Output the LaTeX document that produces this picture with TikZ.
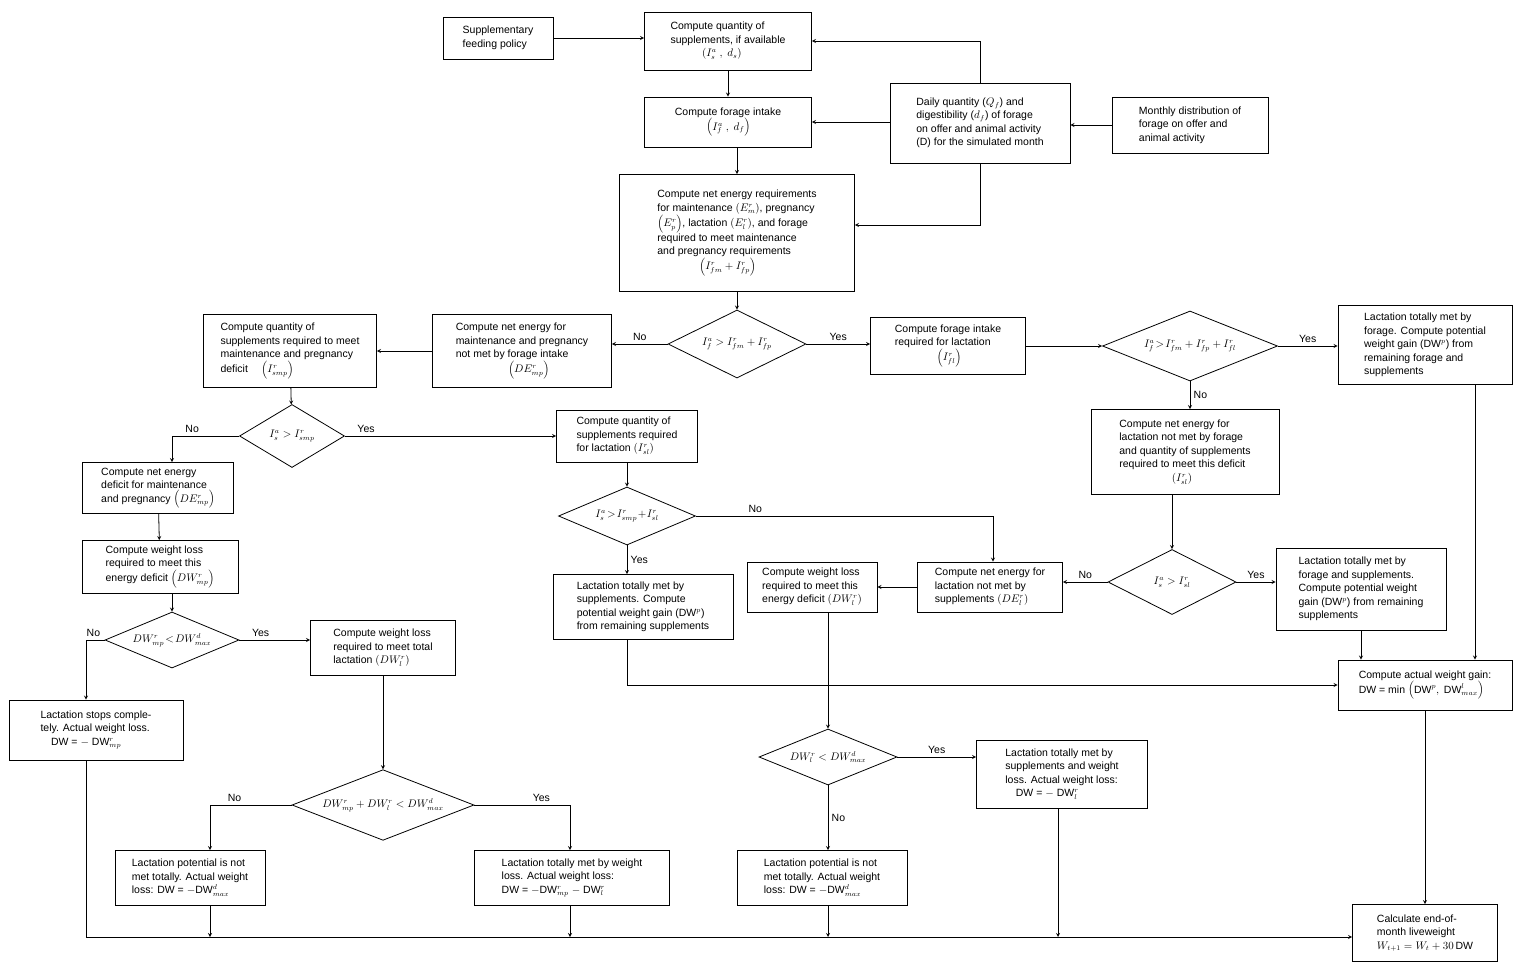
\documentclass[tikz,border=0pt]{standalone}
\usepackage{fontspec}
\setmainfont{Liberation Sans}
\usetikzlibrary{arrows,shapes.geometric,positioning}

\begin{document}
\begin{tikzpicture}[x=1pt,y=-1pt,thick,>=stealth,
    box/.style={draw,thick,align=left,inner sep=2pt,font=\fontsize{10.5}{13.5}\selectfont},
    decision/.style={draw,thick,diamond,aspect=2.1,inner sep=0pt,font=\fontsize{10.5}{12}\selectfont},
    lbl/.style={font=\fontsize{10.5}{12}\selectfont}]
\useasboundingbox (0,0) rectangle (1518,975);

% top part
\node [box,minimum width=110,minimum height=42] (policy) at (498,38) {Supplementary\\feeding policy};
\node [box,minimum width=167,minimum height=58] (qsupp) at (728,41) {Compute quantity of\\supplements, if available\\\hspace*{3em}$\left(I_s^a\ ,\ d_s\right)$};
\node [box,minimum width=167,minimum height=50] (fint) at (728,122) {Compute forage intake\\\hspace*{3em}$\left(I_f^a\ ,\ d_f\right)$};
\node [box,minimum width=180,minimum height=80] (daily) at (980,123) {Daily quantity ($Q_f$) and\\digestibility ($d_f$) of forage\\on offer and animal activity\\(D) for the simulated month};
\node [box,minimum width=156,minimum height=56] (monthly) at (1190,125) {Monthly distribution of\\forage on offer and\\animal activity};
\node [box,minimum width=235,minimum height=117] (netreq) at (737,233) {Compute net energy requirements\\for maintenance $\left(E_m^r\right)$, pregnancy\\$\left(E_p^r\right)$, lactation $\left(E_l^r\right)$, and forage\\required to meet maintenance\\and pregnancy requirements\\\hspace*{4em}$\left(I_{fm}^r + I_{fp}^r\right)$};

% forage branch
\node [decision,minimum width=138,minimum height=68] (d1) at (737,344) {$I_f^a > I_{fm}^r + I_{fp}^r$};
\node [box,minimum width=179,minimum height=73] (nemp) at (522,351) {Compute net energy for\\maintenance and pregnancy\\not met by forage intake\\\hspace*{5em}$\left(DE_{mp}^r\right)$};
\node [box,minimum width=173,minimum height=73] (qsmp) at (290,351) {Compute quantity of\\supplements required to meet\\maintenance and pregnancy\\deficit \quad $\left(I_{smp}^r\right)$};
\node [box,minimum width=155,minimum height=57] (flact) at (948,346) {Compute forage intake\\required for lactation\\\hspace*{4em}$\left(I_{fl}^r\right)$};
\node [decision,minimum width=175,minimum height=70] (d7) at (1190,346) {$I_f^a\!>\!I_{fm}^r + I_{fp}^r + I_{fl}^r$};
\node [box,minimum width=174,minimum height=79] (formet) at (1425,345) {Lactation totally met by\\forage. Compute potential\\weight gain (DW$^p$) from\\remaining forage and\\supplements};
\node [box,minimum width=188,minimum height=85] (nelf) at (1185,452) {Compute net energy for\\lactation not met by forage\\and quantity of supplements\\required to meet this deficit\\\hspace*{5em}$\left(I_{sl}^r\right)$};

% supplement branch
\node [decision,minimum width=105,minimum height=63] (d2) at (292,436) {$I_s^a > I_{smp}^r$};
\node [box,minimum width=151,minimum height=51] (nedef) at (158,488) {Compute net energy\\deficit for maintenance\\and pregnancy $\left(DE_{mp}^r\right)$};
\node [box,minimum width=156,minimum height=53] (wloss) at (160,567) {Compute weight loss\\required to meet this\\energy deficit $\left(DW_{mp}^r\right)$};
\node [decision,minimum width=134,minimum height=56] (d3) at (172,640) {$DW_{mp}^r\!<\!DW_{max}^d$};
\node [box,minimum width=145,minimum height=55] (wltot) at (383,648) {Compute weight loss\\required to meet total\\lactation $\left(DW_l^r\right)$};
\node [box,minimum width=174,minimum height=60] (stops) at (96,730) {Lactation stops comple-\\tely. Actual weight loss.\\\quad DW = $-$ DW$_{mp}^r$};
\node [decision,minimum width=182,minimum height=70] (d4) at (383,805) {$DW_{mp}^r + DW_l^r < DW_{max}^d$};
\node [box,minimum width=150,minimum height=55] (notmet1) at (190,878) {Lactation potential is not\\met totally. Actual weight\\loss: DW = $-$DW$_{max}^d$};
\node [box,minimum width=195,minimum height=55] (totwl) at (572,878) {Lactation totally met by weight\\loss. Actual weight loss:\\DW = $-$DW$_{mp}^r$ $-$ DW$_l^r$};

% lactation branch
\node [box,minimum width=141,minimum height=52] (qsl) at (627,436) {Compute quantity of\\supplements required\\for lactation $\left(I_{sl}^r\right)$};
\node [decision,minimum width=137,minimum height=58] (d5) at (627,516) {$I_s^a\!>\!I_{smp}^r\!+\!I_{sl}^r$};
\node [box,minimum width=180,minimum height=65] (supmet) at (643,607) {Lactation totally met by\\supplements. Compute\\potential weight gain (DW$^p$)\\from remaining supplements};
\node [box,minimum width=130,minimum height=50] (wlossl) at (812,587) {Compute weight loss\\required to meet this\\energy deficit $\left(DW_l^r\right)$};
\node [box,minimum width=145,minimum height=50] (nel) at (990,587) {Compute net energy for\\lactation not met by\\supplements $\left(DE_l^r\right)$};
\node [decision,minimum width=128,minimum height=65] (d6) at (1172,582) {$I_s^a > I_{sl}^r$};
\node [box,minimum width=170,minimum height=82] (forsup) at (1361,589) {Lactation totally met by\\forage and supplements.\\Compute potential weight\\gain (DW$^p$) from remaining\\supplements};
\node [box,minimum width=174,minimum height=50] (actual) at (1425,685) {Compute actual weight gain:\\DW = min $\left(\mathrm{DW}^p,\ \mathrm{DW}_{max}^l\right)$};
\node [decision,minimum width=138,minimum height=56] (d8) at (828,757) {$DW_l^r < DW_{max}^d$};
\node [box,minimum width=171,minimum height=68] (totsw) at (1062,774) {Lactation totally met by\\supplements and weight\\loss. Actual weight loss:\\\quad DW = $-$ DW$_l^r$};
\node [box,minimum width=170,minimum height=55] (notmet2) at (822,878) {Lactation potential is not\\met totally. Actual weight\\loss: DW = $-$DW$_{max}^d$};
\node [box,minimum width=145,minimum height=57] (endm) at (1425,933) {Calculate end-of-\\month liveweight\\$W_{t+1} = W_t + 30\,$DW};

\coordinate (bus) at (86,937);

% top connectors
\draw [->] (policy.east) -- (policy.east -| qsupp.west);
\draw [->] (qsupp) -- (fint);
\draw [->] (fint.south -| netreq) -- (netreq);
\draw [->] (monthly.west) -- (monthly.west -| daily.east);
\draw [->] (daily.west |- fint.east) -- (fint.east);
\draw [->] (daily.north) |- (qsupp.east);
\draw [->] (daily.south) |- (netreq.east |- 0,225);
\draw [->] (netreq) -- (d1);

% forage decisions
\draw [->] (d1.west) -- node [lbl,above] {No} (d1.west -| nemp.east);
\draw [->] (nemp) -- (qsmp);
\draw [->] (d1.east) -- node [lbl,above] {Yes} (d1.east -| flact.west);
\draw [->] (flact.east |- d7.west) -- (d7.west);
\draw [->] (d7.east) -- node [lbl,above] {Yes} (d7.east -| formet.west);
\draw [->] (d7.south) -- node [lbl,right] {No} (nelf.north -| d7.south);
\draw [->] (nelf.south -| d6.north) -- (d6);

% supplement decisions
\draw [->] (qsmp) -- (d2);
\draw [->] (d2.west) -| node [lbl,above,pos=0.35] {No} (nedef.north -| 172,0);
\draw [->] (d2) -- node [lbl,above,pos=0.1] {Yes} (qsl);
\draw [->] (nedef) -- (wloss);
\draw [->] (wloss.south -| d3.north) -- (d3);
\draw [->] (d3.east) -- node [lbl,above,pos=0.3] {Yes} (d3.east -| wltot.west);
\draw [->] (d3.west) -| node [lbl,above,pos=0.3] {No} (stops.north -| bus);
\draw [->] (wltot) -- (d4);
\draw [->] (d4.west) -| node [lbl,above,pos=0.35] {No} (notmet1.north -| 210,0);
\draw [->] (d4.east) -| node [lbl,above,pos=0.35] {Yes} (totwl.north -| 570,0);

% lactation decisions
\draw [->] (qsl) -- (d5);
\draw [->] (d5.south) -- node [lbl,right] {Yes} (supmet.north -| d5.south);
\draw [->] (d5.east) -| node [lbl,above,pos=0.1] {No} (nel.north -| 993,0);
\draw [->] (d6.west) -- node [lbl,above] {No} (d6.west -| nel.east);
\draw [->] (d6.east) -- node [lbl,above] {Yes} (d6.east -| forsup.west);
\draw [->] (nel) -- (wlossl);
\draw [->] (wlossl.south -| d8.north) -- (d8);
\draw [->] (d8.east) -- node [lbl,above] {Yes} (d8.east -| totsw.west);
\draw [->] (d8.south) -- node [lbl,right] {No} (notmet2.north -| d8.south);

% weight gain
\draw [->] (supmet.south -| 627,0) |- (actual.west);
\draw [->] (forsup.south) -- (actual.north -| forsup.south);
\draw [->] (formet.south -| 1475,0) -- (actual.north -| 1475,0);
\draw [->] (actual) -- (endm);

% bottom bus
\draw [->] (stops.south -| bus) -- (bus) -- (endm.west |- bus);
\draw [->] (notmet1.south -| 210,0) -- (bus -| 210,0);
\draw [->] (totwl.south -| 570,0) -- (bus -| 570,0);
\draw [->] (notmet2.south -| d8.south) -- (bus -| d8.south);
\draw [->] (totsw.south -| 1058,0) -- (bus -| 1058,0);

\end{tikzpicture}
\end{document}
